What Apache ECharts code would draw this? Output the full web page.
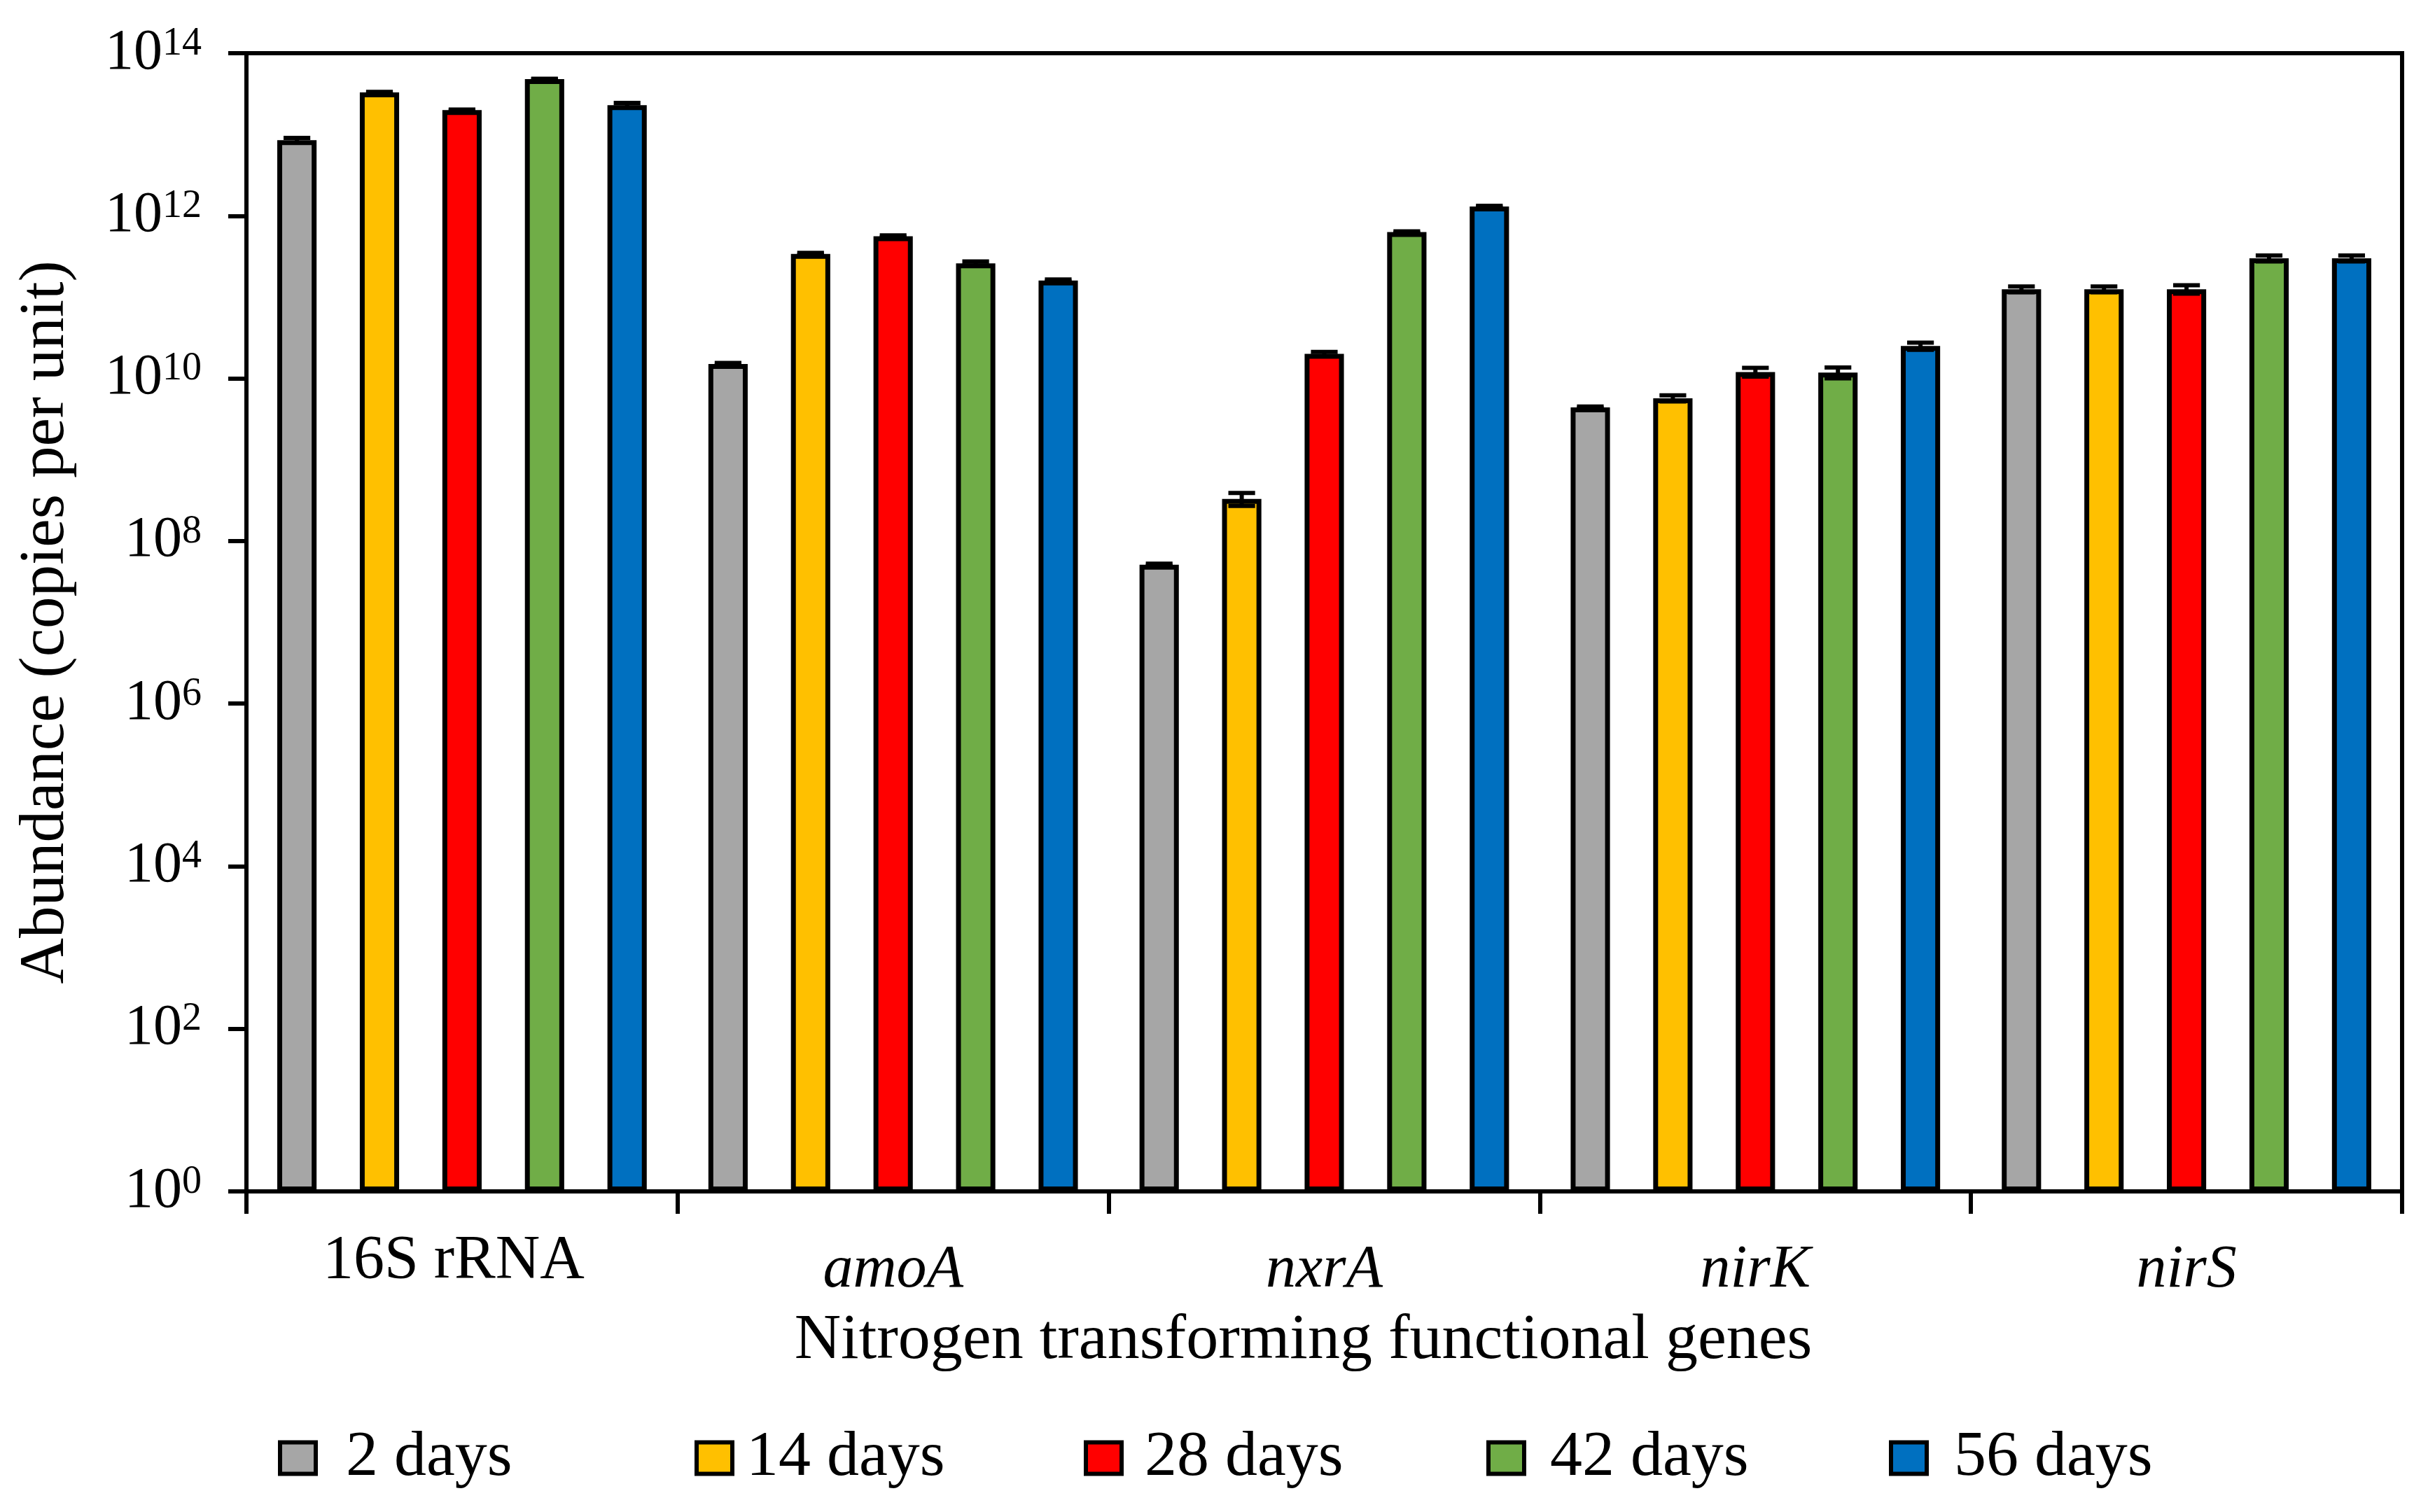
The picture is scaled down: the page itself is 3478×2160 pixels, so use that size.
<!DOCTYPE html>
<html><head><meta charset="utf-8">
<script src="https://cdn.jsdelivr.net/npm/echarts@6/dist/echarts.min.js"></script>
<style>html,body{margin:0;padding:0;background:#fff}#c{width:3478px;height:2160px}</style>
</head><body><div id="c"></div>
<script>
const categories = ['16S rRNA', 'amoA', 'nxrA', 'nirK', 'nirS'];
const seriesNames = ['2 days', '14 days', '28 days', '42 days', '56 days'];
const days2  = [8.5e12, 1.5e10, 5.1e7, 4.4e9, 1.25e11];
const days14 = [3.3e13, 3.4e11, 3.3e8, 5.7e9, 1.25e11];
const days28 = [2.0e13, 5.6e11, 2.0e10, 1.2e10, 1.25e11];
const days42 = [4.8e13, 2.6e11, 6.3e11, 1.18e10, 3.0e11];
const days56 = [2.3e13, 1.6e11, 1.3e12, 2.5e10, 3.0e11];
const err2  = [0.6e12, 0.05e10, 0.15e7, 0.1e9, 0.1e11];
const err14 = [0.4e12, 0.1e11, 0.6e8, 0.5e9, 0.1e11];
const err28 = [0.3e12, 0.15e11, 0.12e10, 0.15e10, 0.15e11];
const err42 = [0.5e12, 0.15e11, 0.15e11, 0.18e10, 0.25e11];
const err56 = [1.5e12, 0.05e11, 0.3e11, 0.25e10, 0.25e11];

const values = [days2, days14, days28, days42, days56];
const errors = [err2, err14, err28, err42, err56];
const colors = ['#A6A6A6', '#FFC000', '#FF0000', '#70AD47', '#0070C0'];
const FONT = 'Liberation Serif';
const BAR_GAP = 1.10, CAT_GAP = 0.143;

const chart = echarts.init(document.getElementById('c'));

const barSeries = seriesNames.map((n, si) => ({
  type: 'bar', name: n, data: values[si], z: 2,
  barGap: (BAR_GAP * 100) + '%', barCategoryGap: (CAT_GAP * 100) + '%',
  itemStyle: { color: colors[si], borderColor: '#000', borderWidth: 7 }
}));

const errSeries = seriesNames.map((n, si) => ({
  type: 'custom', name: 'err ' + n, z: 5, silent: true,
  data: categories.map((c, ci) => [ci, values[si][ci], errors[si][ci]]),
  encode: { x: 0, y: 1 },
  renderItem: (params, api) => {
    const ci = api.value(0), v = api.value(1), e = api.value(2);
    const band = api.coord([1, v])[0] - api.coord([0, v])[0];
    const bw = band * (1 - CAT_GAP) / (5 + 4 * BAR_GAP);
    const x = api.coord([ci, v])[0] + (si - 2) * bw * (1 + BAR_GAP);
    const yT = api.coord([ci, v + e])[1], yB = api.coord([ci, v - e])[1];
    const hw = bw * 0.34;
    const st = { stroke: '#000', lineWidth: 6 };
    return { type: 'group', children: [
      { type: 'line', shape: { x1: x, y1: yT, x2: x, y2: yB }, style: st },
      { type: 'line', shape: { x1: x - hw, y1: yT, x2: x + hw, y2: yT }, style: st },
      { type: 'line', shape: { x1: x - hw, y1: yB, x2: x + hw, y2: yB }, style: st }
    ]};
  }
}));

const legendLefts = [397, 992, 1548, 2123, 2698];
const legendTextPad = [38, 15, 28, 32, 34];
const legends = seriesNames.map((n, si) => ({
  data: [n], left: legendLefts[si], top: 2037, padding: 0,
  icon: 'rect', itemWidth: 51, itemHeight: 45,
  itemStyle: { borderColor: '#000', borderWidth: 6 },
  textStyle: { fontFamily: FONT, fontSize: 92, color: '#000', padding: [0, 0, 0, legendTextPad[si]] },
  selectedMode: false
}));

chart.setOption({
  backgroundColor: '#fff',
  animation: false,
  textStyle: { fontFamily: FONT },
  legend: legends,
  grid: { left: 352, right: 47, top: 76, bottom: 458, show: true, borderColor: '#000', borderWidth: 6, backgroundColor: 'transparent' },
  xAxis: {
    type: 'category', data: categories,
    name: 'Nitrogen transforming functional genes', nameLocation: 'middle', nameGap: 168,
    nameTextStyle: { fontFamily: FONT, fontSize: 92, color: '#000', padding: [0, 60, 0, 0] },
    axisLine: { lineStyle: { color: '#000', width: 6 } },
    axisTick: { show: true, alignWithLabel: false, interval: 0, length: 32, lineStyle: { color: '#000', width: 6 } },
    axisLabel: {
      interval: 0, margin: 56,
      formatter: v => v === '16S rRNA' ? '{n|' + v + '}' : '{i|' + v + '}',
      rich: {
        n: { fontFamily: FONT, fontSize: 88, color: '#000', padding: [0, 24, 0, 0] },
        i: { fontFamily: FONT, fontSize: 86, color: '#000', fontStyle: 'italic', padding: [14, 0, 0, 0] }
      }
    },
    splitLine: { show: false }
  },
  yAxis: {
    type: 'log', logBase: 10, min: 1, max: 1e14, interval: 2,
    name: 'Abundance (copies per unit)', nameLocation: 'middle', nameGap: 240,
    nameTextStyle: { fontFamily: FONT, fontSize: 91, color: '#000' },
    axisLine: { show: true, lineStyle: { color: '#000', width: 6 } },
    axisTick: { show: true, inside: false, length: 26, lineStyle: { color: '#000', width: 6 } },
    axisLabel: {
      margin: 64,
      formatter: v => '{b|10}{s|' + Math.round(Math.log10(v)) + '}',
      rich: {
        b: { fontFamily: FONT, fontSize: 82, color: '#000', lineHeight: 82, verticalAlign: 'bottom' },
        s: { fontFamily: FONT, fontSize: 56, color: '#000', lineHeight: 56, verticalAlign: 'top', padding: [0, 0, 14, 0] }
      }
    },
    splitLine: { show: false },
    minorTick: { show: false }
  },
  series: [...barSeries, ...errSeries]
});
</script></body></html>
